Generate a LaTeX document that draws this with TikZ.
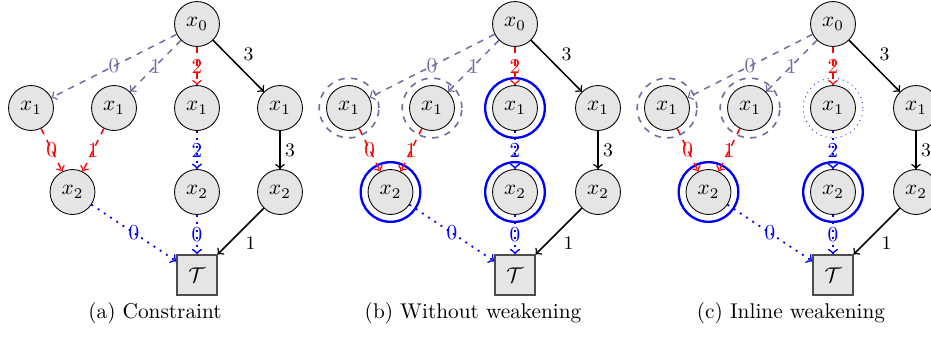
\documentclass[tikz,border=0pt]{standalone}
\definecolor{slate}{rgb}{0.43,0.43,0.62}
\tikzset{
 vnode/.style={circle, draw=black, thin, fill=gray!20, minimum size=21.1pt, inner sep=0pt},
 tnode/.style={rectangle, draw=black!70, semithick, fill=gray!20, minimum size=18.8pt, inner sep=0pt},
 edgeA/.style={->, line width=0.7pt, black},
 edgeDash/.style={->, line width=0.7pt, dashed, slate},
 edgeRed/.style={->, line width=0.7pt, dashed, red},
 edgeDot/.style={->, line width=0.8pt, dash pattern=on 0.9pt off 2.6pt, blue},
 onlab/.style={midway, font=\normalsize, inner sep=0pt},
 sidelab/.style={midway, auto, font=\small, inner sep=2pt},
 ringblue/.style={circle, draw=blue, line width=1.1pt, minimum size=28pt, inner sep=0pt},
 ringgray/.style={circle, draw=slate, line width=0.75pt, dashed, minimum size=28pt, inner sep=0pt},
 ringdot/.style={circle, draw=blue, thin, dotted, minimum size=28pt, inner sep=0pt},
 captext/.style={anchor=base, font=\normalsize},
}
\newcommand\mypanel[3]{%
 \begin{scope}[shift={(#2,0)}]
 \node[vnode] (#1x0) at (197,24) {$x_0$};
 \node[vnode] (#1a) at (31,108) {$x_1$};
 \node[vnode] (#1b) at (114,108) {$x_1$};
 \node[vnode] (#1c) at (197,108) {$x_1$};
 \node[vnode] (#1d) at (280,108) {$x_1$};
 \node[vnode] (#1e) at (72.5,192) {$x_2$};
 \node[vnode] (#1f) at (197,192) {$x_2$};
 \node[vnode] (#1g) at (280,192) {$x_2$};
 \node[tnode] (#1T) at (197,275) {$\mathcal{T}$};
 \node[captext] (#1cap) at (155,318) {#3};
 \draw[edgeDash] (#1x0) -- node[onlab]{0} (#1a);
 \draw[edgeDash] (#1x0) -- node[onlab]{1} (#1b);
 \draw[edgeRed] (#1x0) -- node[onlab]{2} (#1c);
 \draw[edgeA] (#1x0) -- node[sidelab]{3} (#1d);
 \draw[edgeRed] (#1a) -- node[onlab]{0} (#1e);
 \draw[edgeRed] (#1b) -- node[onlab]{1} (#1e);
 \draw[edgeDot] (#1c) -- node[onlab]{2} (#1f);
 \draw[edgeA] (#1d) -- node[sidelab]{3} (#1g);
 \draw[edgeDot] (#1e) -- node[onlab]{0} (#1T);
 \draw[edgeDot] (#1f) -- node[onlab]{0} (#1T);
 \draw[edgeA] (#1g) -- node[sidelab]{1} (#1T);
 \end{scope}}
\begin{document}
\begin{tikzpicture}[x=0.4695pt, y=-0.4695pt]
\clip (0,0) rectangle (931,338);
% panel b rings
\node[ringgray] (bra) at (31+318,108) {};
\node[ringgray] (brb) at (114+318,108) {};
\node[ringblue] (brc) at (197+318,108) {};
\node[ringblue] (bre) at (72.5+318,192) {};
\node[ringblue] (brf) at (197+318,192) {};
% panel c rings
\node[ringgray] (cra) at (31+636,108) {};
\node[ringgray] (crb) at (114+636,108) {};
\node[ringdot] (crc) at (197+636,108) {};
\node[ringblue] (cre) at (72.5+636,192) {};
\node[ringblue] (crf) at (197+636,192) {};
\mypanel{a}{0}{(a) Constraint}
\mypanel{b}{318}{(b) Without weakening}
\mypanel{c}{636}{(c) Inline weakening}
\end{tikzpicture}
\end{document}
